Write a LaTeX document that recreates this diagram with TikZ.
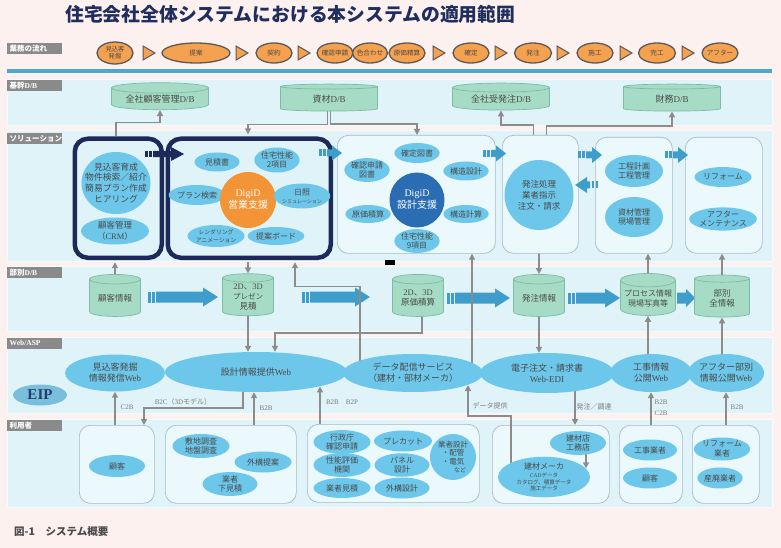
\documentclass[tikz,border=0pt]{standalone}
\usepackage{fontspec}
\setmainfont{Noto Sans CJK JP}
\newfontfamily\lat{Liberation Serif}
\usetikzlibrary{shapes.geometric,arrows.meta,calc}
\definecolor{bgpink}{HTML}{FDF1EF}
\definecolor{bandblue}{HTML}{E0F3F9}
\definecolor{bandedge}{HTML}{F4FBFD}
\definecolor{labgray}{HTML}{8A8A8A}
\definecolor{titlenavy}{HTML}{1F2E5E}
\definecolor{lineblue}{HTML}{4DA8D0}
\definecolor{wforange}{HTML}{F4A150}
\definecolor{wfgray}{HTML}{595959}
\definecolor{dbfill}{HTML}{A6DCC6}
\definecolor{dbedge}{HTML}{7DBBA3}
\definecolor{ellblue}{HTML}{6CC7EA}
\definecolor{txtgray}{HTML}{4A4A4A}
\definecolor{navy}{HTML}{1C2A5A}
\definecolor{boxfill}{HTML}{EBF8FC}
\definecolor{boxedge}{HTML}{A9BAC2}
\definecolor{digiorange}{HTML}{F39436}
\definecolor{digiblue}{HTML}{2B6DB3}
\definecolor{arrblue}{HTML}{3E9DCB}
\definecolor{conngray}{HTML}{8C8C8C}
\definecolor{eipblue}{HTML}{79BFDC}
\definecolor{eiptext}{HTML}{2A3A6A}
\definecolor{lbltext}{HTML}{7A7A7A}
\newcommand\myfs[2]{\fontsize{#1}{#2}\selectfont}
\newcommand\stripearrow[8]{%
  \fill[#1] ({#2},{#4-#5}) rectangle ({#2+#8*2.5},{#4+#5});
  \fill[#1] ({#2+#8*4},{#4-#5}) rectangle ({#2+#8*6.5},{#4+#5});
  \fill[#1] ({#2+#8*8},{#4-#5}) -- ({#3-#8*#7},{#4-#5}) -- ({#3-#8*#7},{#4-#6}) -- ({#3},{#4}) -- ({#3-#8*#7},{#4+#6}) -- ({#3-#8*#7},{#4+#5}) -- ({#2+#8*8},{#4+#5}) -- cycle;}
\newcommand\wftri[1]{\filldraw[fill=wforange,draw=wfgray,line width=1] ({#1-6},46) -- ({#1+6},53) -- ({#1-6},60) -- cycle;}
\pgfdeclarelayer{back}
\pgfdeclarelayer{mid}
\pgfsetlayers{back,mid,main}
\begin{document}
\begin{tikzpicture}[x=1pt,y=-1pt,
  lab/.style={anchor=north west, fill=labgray, text=white, minimum width=55, minimum height=10.5, inner sep=0, text width=50, align=left, font=\myfs{7.5}{8}\bfseries},
  band/.style={fill=bandblue, draw=bandedge, line width=0.8},
  wf/.style={ellipse, fill=wforange, draw=wfgray, line width=1.3, inner sep=0, minimum height=20, text=txtgray, font=\myfs{6.6}{7}, align=center},
  db/.style={cylinder, shape border rotate=90, draw=dbedge, fill=dbfill, line width=0.7, inner sep=0, align=center, text=txtgray},
  kdb/.style={db, minimum width=97, minimum height=27, aspect=0.15, font=\myfs{9}{10}},
  bdb/.style={db, minimum width=51, minimum height=42, aspect=0.28, font=\myfs{8.5}{10}},
  ell/.style={ellipse, fill=ellblue, inner sep=0, align=center, text=txtgray, font=\myfs{8}{9.5}},
  sbox/.style={draw=boxedge, fill=boxfill, line width=0.7, rounded corners=11, anchor=north west, inner sep=0},
  nbox/.style={draw=navy, line width=4.5, rounded corners=13, anchor=north west, inner sep=0},
  gc/.style={draw=conngray, line width=1.6, -{Triangle[length=6pt,width=6pt]}},
  note/.style={text=lbltext, font=\myfs{7}{8}, inner sep=0},
  notel/.style={text=lbltext, font=\lat\myfs{7}{8}, inner sep=0}]
\useasboundingbox (0,0) rectangle (781,548);
\begin{pgfonlayer}{back}
\fill[bgpink] (0,0) rectangle (781,548);
\node[anchor=west, font=\myfs{18.8}{20}\bfseries, text=titlenavy, inner sep=0] (title) at (65,14) {住宅会社全体システムにおける本システムの適用範囲};
\fill[lineblue] (7,69.2) rectangle (772,72.8);
\draw[band] (7,79) rectangle (772,125);
\draw[band] (7,130) rectangle (772,261);
\draw[band] (7,266) rectangle (772,331);
\draw[band] (7,337) rectangle (772,413);
\draw[band] (7,419) rectangle (772,507);
\node[lab] (l1) at (7,43) {業務の流れ};
\node[lab] (l2) at (7,80) {基幹{\lat D/B}};
\node[lab] (l3) at (7,133) {ソリューション};
\node[lab] (l4) at (7,267) {部別{\lat D/B}};
\node[lab] (l5) at (7,338) {{\lat Web/ASP}};
\node[lab] (l6) at (7,420) {利用者};
\node[sbox, minimum width=158, minimum height=118] (sbox3) at (337,135) {};
\node[sbox, minimum width=76, minimum height=118] (sbox4) at (502,135) {};
\node[sbox, minimum width=77, minimum height=116] (sbox5) at (595,137) {};
\node[sbox, minimum width=77, minimum height=116] (sbox6) at (685,137) {};
\node[sbox, minimum width=75, minimum height=78] (u1) at (79,425) {};
\node[sbox, minimum width=131, minimum height=78] (u2) at (165,425) {};
\node[sbox, minimum width=172, minimum height=78] (u3) at (307,424) {};
\node[sbox, minimum width=117, minimum height=78] (u4) at (492,425) {};
\node[sbox, minimum width=63, minimum height=78] (u5) at (619,425) {};
\node[sbox, minimum width=67, minimum height=78] (u6) at (692,425) {};
\node[anchor=west, font=\myfs{10.5}{12}\bfseries, text=txtgray, inner sep=0] (cap) at (14,532) {図-1　システム概要};
\end{pgfonlayer}

% workflow
\node[wf, minimum width=36, minimum height=22, font=\myfs{6.3}{7}] (f1) at (115,53) {見込客\\発掘};
\node[wf, minimum width=68] (f2) at (196,53) {提案};
\node[wf, minimum width=36] (f3) at (274,53) {契約};
\node[wf, minimum width=36, inner xsep=-2] (f4) at (335,53) {確認申請};
\node[wf, minimum width=35, inner xsep=-2] (f5) at (370,53) {色合わせ};
\node[wf, minimum width=36, inner xsep=-2] (f6) at (407,53) {原価精算};
\node[wf, minimum width=36] (f7) at (471,53) {確定};
\node[wf, minimum width=37] (f8) at (533,53) {発注};
\node[wf, minimum width=36] (f9) at (595,53) {施工};
\node[wf, minimum width=37] (f10) at (657,53) {完工};
\node[wf, minimum width=36, inner xsep=-2] (f11) at (720,53) {アフター};
\wftri{149}\wftri{242}\wftri{304}\wftri{439}\wftri{501}\wftri{563}\wftri{626}\wftri{688}

% core DBs
\node[kdb] (kdb1) at (160,99) {全社顧客管理{\lat D/B}};
\node[kdb] (kdb2) at (329,99) {資材{\lat D/B}};
\node[kdb] (kdb3) at (501,99) {全社受発注{\lat D/B}};
\node[kdb] (kdb4) at (672,99) {財務{\lat D/B}};

% solution
\node[nbox, minimum width=87, minimum height=119] (nbox1) at (72.5,136.5) {};
\node[nbox, minimum width=163, minimum height=119] (nbox2) at (165.5,136.5) {};
\node[ell, minimum width=69, minimum height=62, inner xsep=-8, font=\myfs{8.8}{10.8}] (s1a) at (116,183) {見込客育成\\物件検索／紹介\\簡易プラン作成\\ヒアリング};
\node[ell, minimum width=68, minimum height=27, font=\myfs{8.5}{10.5}] (s1b) at (115,231) {顧客管理\\（{\lat CRM}）};
\node[ell, minimum width=45, minimum height=19] (s2a) at (217,162) {見積書};
\node[ell, minimum width=44, minimum height=25] (s2b) at (277,160) {住宅性能\\2項目};
\node[ell, minimum width=44, minimum height=20] (s2c) at (197,195) {プラン検索};
\node[circle, fill=digiorange, minimum size=56, inner sep=0, text=white, align=center, font=\myfs{10}{12}] (dg1) at (248,200) {{\lat DigiD}\\営業支援};
\node[ell, minimum width=46, minimum height=25, font=\myfs{5}{6}] (s2d) at (302,196) {{\myfs{8}{9}日照}\\[2pt]シミュレーション};
\node[ell, minimum width=43, minimum height=22, font=\myfs{5.8}{7.5}] (s2e) at (216,236) {レンダリング\\アニメーション};
\node[ell, minimum width=43, minimum height=18] (s2f) at (276,236) {提案ボード};
\node[ell, minimum width=44, minimum height=20] (s3a) at (417,153) {確定図書};
\node[ell, minimum width=44, minimum height=21] (s3b) at (367,170) {確認申請\\図書};
\node[ell, minimum width=44, minimum height=19] (s3c) at (466,171) {構造設計};
\node[circle, fill=digiblue, minimum size=55, inner sep=0, text=white, align=center, font=\myfs{10}{12}] (dg2) at (417,200) {{\lat DigiD}\\設計支援};
\node[ell, minimum width=45, minimum height=18] (s3d) at (368,214) {原価積算};
\node[ell, minimum width=44, minimum height=18] (s3e) at (466,214) {構造計算};
\node[ell, minimum width=44, minimum height=22] (s3f) at (417,241) {住宅性能\\9項目};
\node[ell, minimum width=69, minimum height=70, font=\myfs{8.5}{11}] (s4) at (539,195) {発注処理\\業者指示\\注文・請求};
\node[ell, minimum width=58, minimum height=32] (s5a) at (634,171) {工程計画\\工程管理};
\node[ell, minimum width=58, minimum height=40] (s5b) at (634,217) {資材管理\\現場管理};
\node[ell, minimum width=57, minimum height=20] (s6a) at (723,177) {リフォーム};
\node[ell, minimum width=57, minimum height=22] (s6b) at (723,219) {アフター\\メンテナンス};
\stripearrow{navy}{145}{184}{154}{3.2}{7}{13}{1}
\stripearrow{arrblue}{319}{342}{153}{3.5}{7.5}{10}{1}
\stripearrow{arrblue}{483}{506}{153.5}{3.5}{8}{10}{1}
\stripearrow{arrblue}{578}{602}{155}{3.5}{8}{10}{1}
\stripearrow{arrblue}{598}{575}{185}{3.5}{8}{12}{(-1)}
\stripearrow{arrblue}{665}{688}{155}{3.5}{8}{10}{1}
\fill[black] (385,259.5) rectangle (395,264.5);

% department DBs
\node[bdb] (bdb1) at (115,298) {顧客情報};
\node[bdb] (bdb2) at (248,297) {{\lat 2D}、{\lat 3D}\\{\myfs{7.5}{9}プレゼン}\\見積};
\node[bdb] (bdb3) at (418,298) {{\lat 2D}、{\lat 3D}\\原価積算};
\node[bdb] (bdb4) at (539,298) {発注情報};
\node[bdb, minimum width=55, font=\myfs{8}{10}] (bdb5) at (648,298) {プロセス情報\\現場写真等};
\node[bdb, minimum width=55] (bdb6) at (722,298) {部別\\全情報};

% Web/ASP
\node[ell, minimum width=100, minimum height=37, font=\myfs{9}{11}] (w1) at (115,373) {見込客発掘\\情報発信{\lat Web}};
\node[ell, minimum width=182, minimum height=40, font=\myfs{9}{11}] (w2) at (256,372) {設計情報提供{\lat Web}};
\node[ell, minimum width=140, minimum height=38, font=\myfs{9}{11}] (w3) at (413,373) {データ配信サービス\\（建材・部材メーカ）};
\node[ell, minimum width=134, minimum height=40, font=\myfs{9}{11}] (w4) at (547,373) {電子注文・請求書\\{\lat Web-EDI}};
\node[ell, minimum width=82, minimum height=38, font=\myfs{9}{11}] (w5) at (651,373) {工事情報\\公開{\lat Web}};
\node[ell, minimum width=74, minimum height=38, font=\myfs{9}{11}] (w6) at (726,373) {アフター部別\\情報公開{\lat Web}};
\node[ellipse, fill=eipblue, minimum width=54, minimum height=21, inner sep=0, text=eiptext, font=\lat\bfseries\myfs{15}{15}] (eip) at (40,395) {EIP};
\node[notel] (n1) at (127,407) {C2B};
\node[note] (n2) at (183,402) {{\lat B2C}（{\lat 3D}モデル）};
\node[notel] (n3) at (266,408) {B2B};
\node[notel] (n4) at (342,402) {B2B\quad B2P};
\node[note] (n5) at (490,406) {データ提供};
\node[note] (n6) at (594,407) {発注／調達};
\node[notel] (n7) at (661,402) {B2B};
\node[notel] (n8) at (661,413) {C2B};
\node[notel] (n9) at (737,407) {B2B};

% users
\node[ell, minimum width=56, minimum height=22] (e1) at (117,466) {顧客};
\node[ell, minimum width=57, minimum height=23] (e2a) at (201,446) {敷地調査\\地盤調査};
\node[ell, minimum width=57, minimum height=21] (e2b) at (263,462) {外構提案};
\node[ell, minimum width=55, minimum height=23] (e2c) at (230,484) {業者\\下見積};
\node[ell, minimum width=57, minimum height=21] (e3a) at (342,442) {行政庁\\確認申請};
\node[ell, minimum width=58, minimum height=21] (e3b) at (403,441) {プレカット};
\node[ell, minimum width=57, minimum height=21] (e3c) at (342,465) {性能評価\\機関};
\node[ell, minimum width=55, minimum height=21] (e3d) at (402,465) {パネル\\設計};
\node[ell, minimum width=57, minimum height=20] (e3e) at (342,488) {業者見積};
\node[ell, minimum width=55, minimum height=21] (e3f) at (402,488) {外構設計};
\node[ell, minimum width=46, minimum height=46, font=\myfs{7.5}{8.5}] (e3g) at (453,457) {業者設計\\・配管\\・電気\\\hspace*{14pt}{\myfs{6}{7}など}};
\node[ell, minimum width=56, minimum height=22] (u4a) at (578,443) {建材店\\工務店};
\node[ell, minimum width=92, minimum height=40, font=\myfs{5.5}{6.5}] (u4e) at (544,477) {{\myfs{8}{9}建材メーカ}\\[2pt]{\lat CAD}データ\\カタログ、積算データ\\施工データ};
\node[ell, minimum width=54, minimum height=21] (e5a) at (650,450) {工事業者};
\node[ell, minimum width=54, minimum height=21] (e5b) at (650,478) {顧客};
\node[ell, minimum width=50, minimum height=22] (e6a) at (722,449) {リフォーム\\業者};
\node[ell, minimum width=45, minimum height=21] (e6b) at (720,478) {産廃業者};

\coordinate (X243) at (243,0);
\coordinate (X254) at (254,0);
\coordinate (X275) at (275,0);
\coordinate (X295) at (295,0);
\coordinate (X320) at (320,0);
\coordinate (X360) at (360,0);
\coordinate (X472) at (472,0);
\coordinate (X511) at (511,0);
\coordinate (X575) at (575,0);
\coordinate (X586) at (586,0);
\coordinate (b2c) at (144,408);
\coordinate (dtp) at (468,416);

\begin{pgfonlayer}{mid}
\stripearrow{arrblue}{148}{218}{297}{5.5}{9.5}{15}{1}
\stripearrow{arrblue}{302}{370}{297}{5.5}{9.5}{15}{1}
\stripearrow{arrblue}{447}{510}{298}{5.5}{9.5}{15}{1}
\stripearrow{arrblue}{568}{620}{298}{5.5}{9.5}{15}{1}
\fill[arrblue] (677,292.5) -- (686,292.5) -- (686,289) -- (695,298) -- (686,307) -- (686,303.5) -- (677,303.5) -- cycle;
\draw[gc] (nbox1.north -| s1a) |- ($(kdb1.south)+(0,12.5)$) -- (kdb1.south);
\draw[gc] ([xshift=-1.5]kdb2.center) |- ($(nbox2.north -| dg1)+(0,-12)$) -- ($(nbox2.north -| dg1)+(0,-2.2)$);
\draw[gc] ([xshift=1.5]kdb2.center) |- ($(sbox3.north -| dg2)+(0,-11)$) -- (sbox3.north -| dg2);
\draw[gc] ([xshift=-7]sbox4.north) |- ($(kdb3.south)+(0,14.5)$) -- (kdb3.south);
\draw[gc] ([xshift=6]sbox4.north) |- ($(kdb4.south)+(0,14.5)$) -- (kdb4.south);
\draw[gc] (bdb1.center) -- ($(nbox1.south -| bdb1)+(0,2.2)$);
\draw[gc] ($(nbox2.south -| bdb2)+(0,2.2)$) -- (bdb2.north);
\draw[gc] (w3.center -| X360) |- ($(nbox2.south -| X295)+(0,26.5)$) -- ($(nbox2.south -| X295)+(0,2.2)$);
\draw[gc] (bdb2.center) -- (w2.north -| bdb2);
\draw[gc] ([xshift=4]bdb3.center) |- ($(w2.north -| X275)+(0,-19)$) -- (w2.north -| X275);
\draw[gc] (w3.center -| X472) -- (sbox3.south -| X472);
\draw[gc] (sbox4.south -| bdb4) -- (bdb4.north);
\draw[gc] (bdb4.center) -- (w4.north -| bdb4);
\draw[gc] (bdb5.center) -- (sbox5.south -| bdb5);
\draw[gc] (w5.center -| bdb5) -- (bdb5.south);
\draw[gc] (bdb6.center) -- (sbox6.south -| bdb6);
\draw[gc] (w6.center -| bdb6) -- (bdb6.south);
\draw[gc] (u1.north -| w1) -- (w1.south);
\draw[gc] (w2.center -| X243) |- (b2c) -- (u1.north -| b2c);
\draw[gc] (u2.north -| X254) -- (w2.south -| X254);
\draw[gc] (u3.north -| X320) -- ($(w2.south -| X320)+(0,-5.8)$);
\draw[gc] (u4e.center -| X511) |- (dtp) -- ($(w3.south -| dtp)+(0,-7.2)$);
\draw[gc] (w4.center -| X575) -- (u4.north -| X575);
\draw[gc] (u4a.center -| X586) -- ($(u4e.north -| X586)+(0,11.8)$);
\draw[gc] (u5.north -| w5) -- (w5.south);
\draw[gc] (u6.north -| w6) -- (w6.south);
\end{pgfonlayer}
\end{tikzpicture}
\end{document}
